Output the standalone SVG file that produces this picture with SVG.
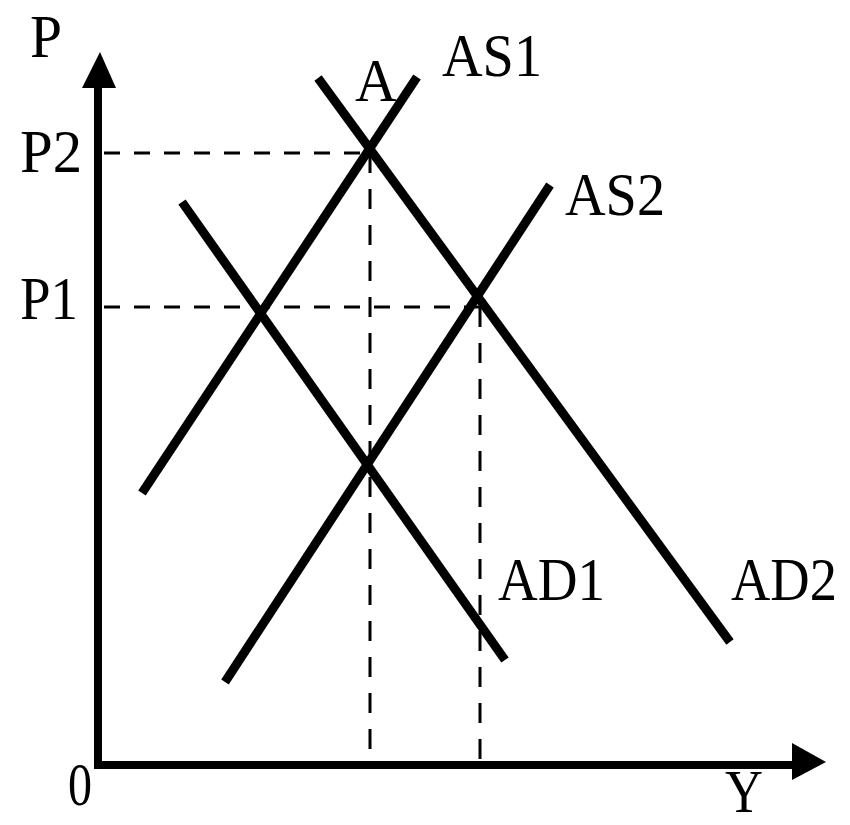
<svg xmlns="http://www.w3.org/2000/svg" width="850" height="825" viewBox="0 0 850 825">
<style>
.t{font-family:"Liberation Serif","Times New Roman",serif;font-size:62px;fill:#000}
.curve{stroke:#000;stroke-width:9;fill:none;stroke-linecap:butt}
.axis{stroke:#000;stroke-width:8;fill:none}
.dh{stroke:#000;stroke-width:3;stroke-dasharray:16 14;fill:none}
.dv{stroke:#000;stroke-width:3;stroke-dasharray:20 16;fill:none}
</style>
<rect width="850" height="825" fill="#fff"/>
<g id="axes">
<line class="axis" x1="98" y1="769" x2="98" y2="80"/>
<polygon points="100,52 82,88 116,88" fill="#000"/>
<line class="axis" x1="94" y1="765" x2="796" y2="765"/>
<polygon points="826,762 792,743 792,780" fill="#000"/>
</g>
<g id="connectors">
<line class="dh" x1="104" y1="153" x2="370" y2="153"/>
<line class="dv" x1="370" y1="153" x2="370" y2="761"/>
<line class="dh" x1="104" y1="307" x2="480" y2="307"/>
<line class="dv" x1="480" y1="307" x2="480" y2="761"/>
</g>
<g id="AS1"><line class="curve" x1="142" y1="493" x2="417" y2="77"/></g>
<g id="AD2"><line class="curve" x1="318" y1="78" x2="730" y2="642"/></g>
<g id="AD1"><line class="curve" x1="182" y1="202" x2="505" y2="660"/></g>
<g id="AS2"><line class="curve" x1="225" y1="682" x2="550" y2="185"/></g>
<g id="labels">
<text class="t" x="30" y="57" textLength="32" lengthAdjust="spacingAndGlyphs">P</text>
<text class="t" x="20" y="172" textLength="62" lengthAdjust="spacingAndGlyphs">P2</text>
<text class="t" x="20" y="319" textLength="58" lengthAdjust="spacingAndGlyphs">P1</text>
<text class="t" x="68" y="805" textLength="24" lengthAdjust="spacingAndGlyphs">0</text>
<text class="t" x="725" y="812" font-size="58" textLength="38" lengthAdjust="spacingAndGlyphs">Y</text>
<text class="t" x="355" y="101" textLength="42" lengthAdjust="spacingAndGlyphs">A</text>
<text class="t" x="442" y="76" textLength="100" lengthAdjust="spacingAndGlyphs">AS1</text>
<text class="t" x="565" y="215" textLength="100" lengthAdjust="spacingAndGlyphs">AS2</text>
<text class="t" x="498" y="600" textLength="107" lengthAdjust="spacingAndGlyphs">AD1</text>
<text class="t" x="731" y="600" font-size="60" textLength="106" lengthAdjust="spacingAndGlyphs">AD2</text>
</g>
</svg>
